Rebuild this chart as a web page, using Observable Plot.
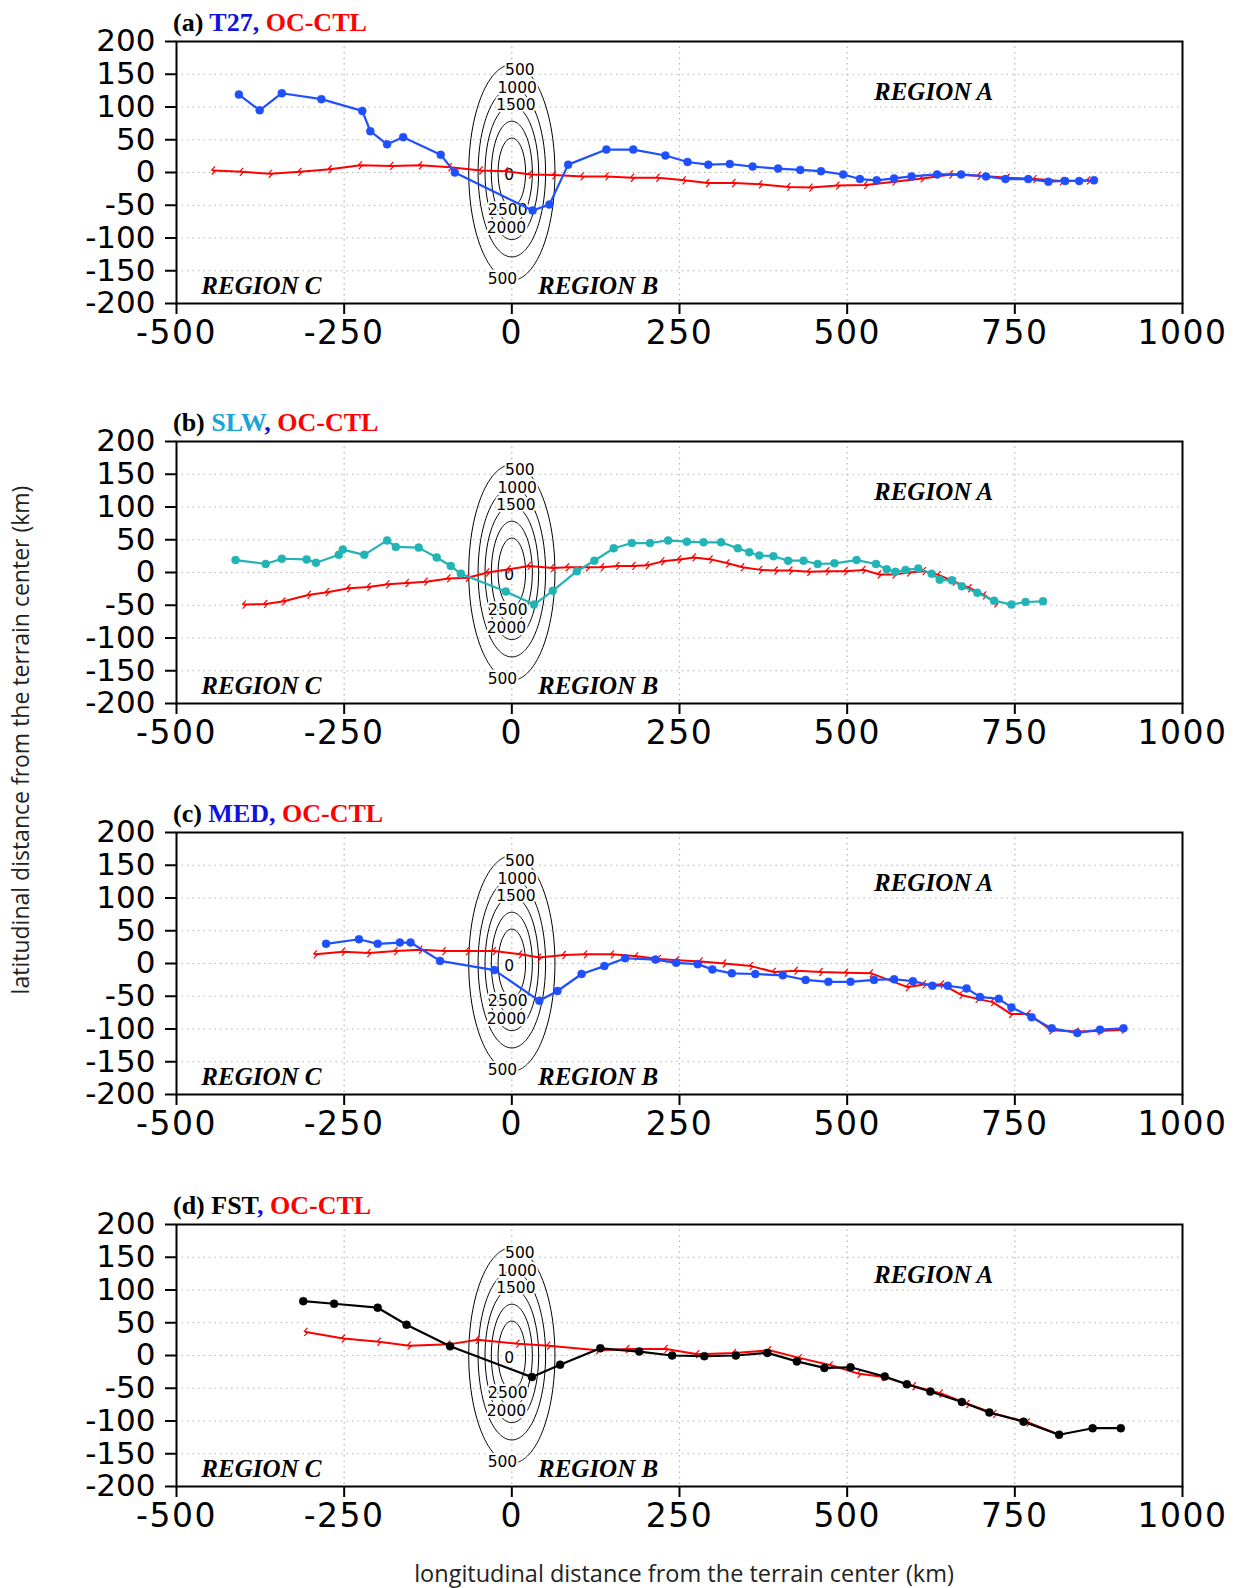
<!DOCTYPE html>
<html><head><meta charset="utf-8">
<script src="https://cdn.jsdelivr.net/npm/d3@7"></script>
<script src="https://cdn.jsdelivr.net/npm/@observablehq/plot@0.6"></script>
<style>
html,body{margin:0;padding:0;background:#fff;}
#wrap{position:relative;width:1237px;height:1588px;overflow:hidden;background:#fff;}
#wrap > svg{position:absolute;left:0;}
</style></head><body><div id="wrap"></div>
<script>
// ---------- tick values ----------
const xTicks = [-500, -250, 0, 250, 500, 750, 1000];
const yTicks = [-200, -150, -100, -50, 0, 50, 100, 150, 200];
const xGrid = [-250, 0, 250, 500, 750];
const yGrid = [-150, -100, -50, 0, 50, 100, 150];

// ---------- (a) T27 ----------
const t27X = [-407,-376,-343,-284,-223,-211,-186,-162,-106,-85,31,56,84,141,181,229,262,293,325,359,397,430,461,494,519,544,570,596,634,670,707,736,770,800,825,846,868];
const t27Y = [119,95,121,112,94,63,43,54,27,0,-58,-49,12,35,35,26,16,12,13,9,6,4,2,-3,-10,-12,-9,-6,-3,-3,-6,-10,-10,-14,-13,-13,-12];
const ctlAX = [-445,-403,-360,-316,-271,-226,-179,-136,-92,-46,-8,28,63,105,142,180,218,257,292,331,371,413,446,486,528,570,612,655,697,740,780,820,860];
const ctlAY = [3,1,-2,1,5,11,10,11,8,3,2,-3,-4,-6,-6,-8,-8,-12,-16,-16,-18,-22,-23,-20,-19,-14,-9,-3,-5,-8,-10,-13,-12];

// ---------- (b) SLW ----------
const slwX = [-412,-367,-343,-306,-292,-258,-252,-220,-186,-173,-139,-112,-91,-76,-9,33,61,97,123,152,179,206,233,261,286,312,337,354,369,390,412,435,456,481,514,543,559,572,587,606,626,638,656,671,694,719,745,766,792];
const slwY = [19,13,21,20,15,27,35,27,49,39,38,23,10,-2,-29,-49,-28,2,18,37,45,45,49,47,46,46,37,31,26,25,18,18,13,14,19,13,5,1,4,6,-2,-11,-12,-21,-31,-43,-49,-45,-44];
const ctlBX = [-399,-367,-340,-302,-275,-243,-213,-185,-156,-128,-94,-66,-36,-4,26,61,83,113,135,158,182,202,225,250,272,297,322,344,371,394,416,443,471,498,525,548,570,592,615,637,660,683,705,722];
const ctlBY = [-49,-48,-44,-34,-30,-24,-22,-18,-16,-14,-9,-8,0,5,10,7,8,8,8,10,10,11,17,20,23,20,14,8,4,3,3,1,2,2,4,-3,-3,0,2,-4,-14,-24,-35,-47];

// ---------- (c) MED ----------
const medX = [-277,-228,-200,-167,-151,-107,-26,41,68,104,138,169,214,245,277,299,328,363,404,438,472,505,540,570,598,627,650,678,698,726,745,775,805,843,877,912];
const medY = [30,37,30,32,32,4,-10,-57,-42,-16,-4,8,6,1,-1,-9,-15,-16,-18,-25,-28,-28,-25,-24,-27,-34,-34,-38,-51,-54,-67,-82,-99,-106,-101,-99];
const ctlCX = [-293,-251,-213,-173,-136,-101,-66,-26,13,41,78,110,150,186,220,247,282,317,357,391,424,461,499,536,590,615,642,670,694,717,744,771,804,843,877,912];
const ctlCY = [14,18,16,19,21,19,19,19,14,9,13,14,14,11,7,5,3,0,-4,-13,-11,-13,-14,-15,-36,-32,-32,-48,-54,-59,-77,-77,-102,-104,-103,-101];

// ---------- (d) FST ----------
const fstX = [-311,-265,-200,-157,-92,30,72,132,190,239,287,334,381,425,466,505,556,589,624,671,712,763,816,866,908];
const fstY = [83,79,73,47,14,-33,-14,11,6,0,-1,0,4,-9,-19,-18,-32,-44,-55,-71,-87,-101,-121,-111,-111];
const ctlDX = [-307,-251,-198,-153,-94,-51,9,55,128,173,230,277,332,384,430,476,518,555,600,640,680,720,770,816];
const ctlDY = [36,26,21,15,17,24,18,15,8,10,10,2,4,8,-4,-15,-28,-33,-47,-58,-74,-89,-102,-121];

// ---------- terrain (idealized mountain) ----------
const terrainPeak = 3000;          // m
const terrainHalfX = 48;           // km
const terrainHalfY = 123;          // km
const contourLevels = [500, 1000, 1500, 2000, 2500];
const contourLabelText = ["500", "1000", "1500", "2500", "2000", "500", "0"];
const contourLabelX = [12, 8, 6, -6, -8, -14, -4];
const contourLabelY = [157, 129, 103, -58, -85, -162, -4];

// ---------- annotations ----------
const regionNames = ["REGION A", "REGION B", "REGION C"];
const regionX = [540, 39, -463];
const regionY = [110, -185, -185];

// ---------- panel titles ----------
const panelLetters = ["(a)", "(b)", "(c)", "(d)"];
const expNames = ["T27", "SLW", "MED", "FST"];
const ctlName = "OC-CTL";
const yLabel = "latitudinal distance from the terrain center (km)";
const xLabel = "longitudinal distance from the terrain center (km)";

// ---------- styling (not data) ----------
const lineColors = ["#1f4fff", "#21b3b6", "#1f4fff", "#000000"];
const titleColors = ["#1212e0", "#1aa5d8", "#1212e0", "#000000"];
const commaColor = "#1212e0";
const red = "#ff0000";
const panelTops = [0, 400, 791, 1183];

const expSeries = [[t27X, t27Y], [slwX, slwY], [medX, medY], [fstX, fstY]];
const ctlSeries = [[ctlAX, ctlAY], [ctlBX, ctlBY], [ctlCX, ctlCY], [ctlDX, ctlDY]];

const rows = (xs, ys) => xs.map((x, i) => ({x, y: ys[i]}));
const contourLabels = contourLabelText.map((t, i) => ({t, x: contourLabelX[i], y: contourLabelY[i]}));
const regions = regionNames.map((t, i) => ({t, x: regionX[i], y: regionY[i]}));
const terrain = (x, y) => terrainPeak * Math.exp(-((x / terrainHalfX) ** 2) - ((y / terrainHalfY) ** 2));

const bolt = {
  draw(ctx, size) {
    const r = Math.sqrt(size / Math.PI);
    ctx.moveTo(-0.4 * r, r);
    ctx.lineTo(0.4 * r, 0.15 * r);
    ctx.lineTo(-0.4 * r, -0.15 * r);
    ctx.lineTo(0.4 * r, -r);
  }
};

const wrap = document.getElementById("wrap");

for (let p = 0; p < 4; p++) {
  const exp = rows(...expSeries[p]);
  const ctl = rows(...ctlSeries[p]);
  const svg = Plot.plot({
    width: 1237,
    height: 353,
    marginLeft: 176,
    marginRight: 55,
    marginTop: 41,
    marginBottom: 50,
    x: {domain: [-500, 1000]},
    y: {domain: [-200, 200]},
    style: {fontFamily: "DejaVu Sans", overflow: "visible", background: "transparent"},
    marks: [
      Plot.gridX(xGrid, {stroke: "#b4b4b4", strokeOpacity: 1, strokeWidth: 1.2, strokeDasharray: "1.5,4"}),
      Plot.gridY(yGrid, {stroke: "#b4b4b4", strokeOpacity: 1, strokeWidth: 1.2, strokeDasharray: "1.5,4"}),
      Plot.contour({
        value: terrain,
        x1: -160, x2: 160, y1: -200, y2: 200,
        thresholds: contourLevels,
        pixelSize: 1,
        stroke: "black",
        strokeWidth: 1,
        fill: "none"
      }),
      Plot.text(contourLabels, {
        x: "x", y: "y", text: "t",
        fontSize: 15.5, fontFamily: "DejaVu Sans",
        fill: "black", stroke: "white", strokeWidth: 4
      }),
      Plot.line(ctl, {x: "x", y: "y", stroke: red, strokeWidth: 2}),
      Plot.dot(ctl, {x: "x", y: "y", symbol: bolt, r: 4, stroke: red, strokeWidth: 1.2, fill: "none"}),
      Plot.line(exp, {x: "x", y: "y", stroke: lineColors[p], strokeWidth: 2.2}),
      Plot.dot(exp, {x: "x", y: "y", r: 4, fill: lineColors[p], stroke: lineColors[p], strokeWidth: 0.5}),
      Plot.text(regions, {
        x: "x", y: "y", text: "t",
        textAnchor: "start", lineAnchor: "bottom",
        fontFamily: "Liberation Serif", fontWeight: "bold", fontStyle: "italic",
        fontSize: 25, fill: "black"
      }),
      Plot.frame({stroke: "black", strokeWidth: 2}),
      Plot.axisX(xTicks, {
        tickSize: 11, tickPadding: 6, fontSize: 33, strokeWidth: 2,
        tickFormat: d => String(d), label: null
      }),
      Plot.axisY(yTicks, {
        tickSize: 11, tickPadding: 10, fontSize: 31, strokeWidth: 2,
        tickFormat: d => String(d), label: null
      })
    ]
  });
  svg.style.top = panelTops[p] + "px";
  const s = d3.select(svg);
  s.selectAll('g[aria-label="x-axis tick label"] text').attr("letter-spacing", "1.5");
  const title = s.append("text")
    .attr("x", 173).attr("y", 30.7)
    .attr("text-anchor", "start")
    .attr("font-family", "Liberation Serif").attr("font-weight", "bold")
    .attr("font-size", 26);
  title.append("tspan").attr("fill", "#000").text(panelLetters[p] + " ");
  title.append("tspan").attr("fill", titleColors[p]).text(expNames[p]);
  title.append("tspan").attr("fill", commaColor).text(",");
  title.append("tspan").attr("fill", red).text(" " + ctlName);
  wrap.appendChild(svg);
}

const lab = d3.create("svg")
  .attr("width", 1237).attr("height", 1588)
  .style("top", "0px").style("pointer-events", "none");
lab.append("text")
  .attr("transform", "translate(29,740) rotate(-90)")
  .attr("text-anchor", "middle")
  .attr("font-family", "Open Sans").attr("font-size", 23).attr("fill", "#222")
  .text(yLabel);
lab.append("text")
  .attr("x", 684).attr("y", 1582)
  .attr("text-anchor", "middle")
  .attr("font-family", "Open Sans").attr("font-size", 23.5).attr("fill", "#222")
  .text(xLabel);
wrap.appendChild(lab.node());
</script></body></html>
